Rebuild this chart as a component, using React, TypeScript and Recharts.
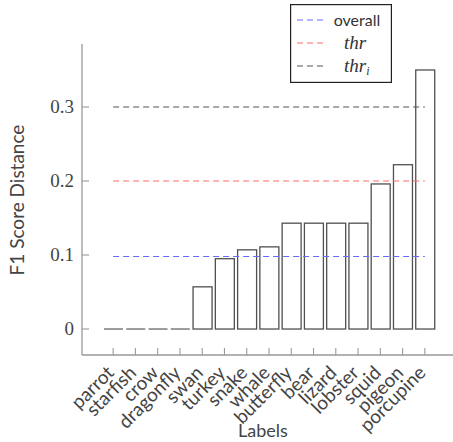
import { BarChart, Bar, XAxis, YAxis, ReferenceLine, Legend } from 'recharts'

// animals on the x axis, sorted by distance
const labels = ['parrot', 'starfish', 'crow', 'dragonfly', 'swan', 'turkey', 'snake', 'whale', 'butterfly', 'bear', 'lizard', 'lobster', 'squid', 'pigeon', 'porcupine']
const distances = [0, 0, 0, 0, 0.057, 0.095, 0.107, 0.111, 0.143, 0.143, 0.143, 0.143, 0.196, 0.222, 0.35]
const yTicks = [0, 0.1, 0.2, 0.3]

// dashed threshold lines
const thresholdNames = ['overall', 'thr', 'thr_i']
const thresholdValues = [0.098, 0.2, 0.3]
const thresholdColors = ['#6868ff', '#ff6b6b', '#555555']

const data = labels.map((name, i) => ({ name, value: distances[i] }))

const SANS = 'Lato, "Open Sans", sans-serif'
const SERIF = '"Liberation Serif", "DejaVu Serif", serif'
const FRAME = '#999'

const BarShape = (p: any) => {
  const { x, y, width, height } = p
  if (!height) {
    return <line x1={x} x2={x + width} y1={y} y2={y} stroke="#666" strokeWidth={1.3} />
  }
  return <rect x={x} y={y} width={width} height={height} fill="#fff" stroke="#505050" strokeWidth={1.3} />
}

const BottomTick = ({ x, y, payload }: any) => (
  <g>
    <line x1={x} x2={x} y1={y} y2={y - 7} stroke={FRAME} strokeWidth={1.1} />
    <text
      x={x + 2} y={y + 19}
      transform={`rotate(-45 ${x + 2} ${y + 19})`}
      textAnchor="end" fontFamily={SANS} fontSize={19} fill="#444"
    >
      {payload.value}
    </text>
  </g>
)

const TopTick = ({ x, y }: any) => (
  <line x1={x} x2={x} y1={y} y2={y + 7} stroke={FRAME} strokeWidth={1.1} />
)

const LeftTick = ({ x, y, payload }: any) => (
  <g>
    <line x1={x} x2={x + 7} y1={y} y2={y} stroke={FRAME} strokeWidth={1.1} />
    <text x={x - 8} y={y} dy="0.34em" textAnchor="end" fontFamily={SERIF} fontSize={19} fill="#444">
      {payload.value}
    </text>
  </g>
)

const RightTick = ({ x, y }: any) => (
  <line x1={x} x2={x - 7} y1={y} y2={y} stroke={FRAME} strokeWidth={1.1} />
)

const LegendBox = () => (
  <svg width={102} height={79} style={{ display: 'block' }}>
    <rect x={0.6} y={0.6} width={100.8} height={77.8} fill="#fff" stroke="#222" strokeWidth={1.2} />
    {thresholdNames.map((n, i) => {
      const cy = 16 + i * 23
      const [base, sub] = n.split('_')
      return (
        <g key={n}>
          <line x1={7} x2={35} y1={cy} y2={cy} stroke={thresholdColors[i]} strokeWidth={1.2} strokeDasharray="6 4" />
          {i === 0 ? (
            <text x={67} y={cy} dy="0.35em" textAnchor="middle" fontFamily={SANS} fontSize={16} fill="#333">{n}</text>
          ) : (
            <text x={54} y={cy} dy="0.33em" fontFamily={SERIF} fontStyle="italic" fontSize={19} fill="#333">
              {base}
              {sub && <tspan fontSize={12} dy={3}>{sub}</tspan>}
            </text>
          )}
        </g>
      )
    })}
  </svg>
)

export default function App() {
  return (
    <div style={{ position: 'absolute', left: 0, top: 0, width: 453, height: 442, overflow: 'hidden', background: '#fff' }}>
      <BarChart width={460} height={442} data={data} margin={{ top: 44, right: 4, bottom: 0, left: 0 }} barSize={19}>
        <XAxis
          dataKey="name" interval={0} height={87}
          padding={{ left: 20, right: 20 }}
          axisLine={{ stroke: FRAME, strokeWidth: 1.3 }}
          tickLine={false} tickSize={0} tickMargin={0}
          tick={<BottomTick />}
          label={{
            content: () => (
              <text x={263} y={437} textAnchor="middle" fontFamily={SANS} fontSize={18} fill="#444">Labels</text>
            ),
          }}
        />
        <XAxis
          xAxisId="top" orientation="top" dataKey="name" interval={0} height={0}
          padding={{ left: 20, right: 20 }}
          axisLine={{ stroke: FRAME, strokeWidth: 1.3 }}
          tickLine={false} tickSize={0} tickMargin={0}
          tick={<TopTick />}
        />
        <YAxis
          width={82} domain={[-0.0351, 0.3851]} ticks={yTicks} allowDataOverflow
          axisLine={{ stroke: FRAME, strokeWidth: 1.3 }}
          tickLine={false} tickSize={0} tickMargin={0}
          tick={<LeftTick />}
          label={{
            content: () => (
              <text x={17} y={200} transform="rotate(-90 17 200)" textAnchor="middle" dy="0.35em"
                fontFamily={SANS} fontSize={19} fill="#444">F1 Score Distance</text>
            ),
          }}
        />
        <YAxis
          yAxisId="right" orientation="right" width={0} domain={[-0.0351, 0.3851]} ticks={yTicks} allowDataOverflow
          axisLine={{ stroke: FRAME, strokeWidth: 1.3 }}
          tickLine={false} tickSize={0} tickMargin={0}
          tick={<RightTick />}
        />
        <Bar dataKey="value" shape={<BarShape />} isAnimationActive={false} />
        {thresholdValues.map((v, i) => (
          <ReferenceLine
            key={thresholdNames[i]}
            segment={[{ x: labels[0], y: v }, { x: labels[labels.length - 1], y: v }]}
            stroke={thresholdColors[i]} strokeWidth={1.2} strokeDasharray="6 4"
          />
        ))}
        <Legend
          content={<LegendBox />}
          verticalAlign="middle" align="center" layout="horizontal"
          wrapperStyle={{ left: 290, top: 4, width: 102, height: 79 }}
        />
      </BarChart>
    </div>
  )
}
